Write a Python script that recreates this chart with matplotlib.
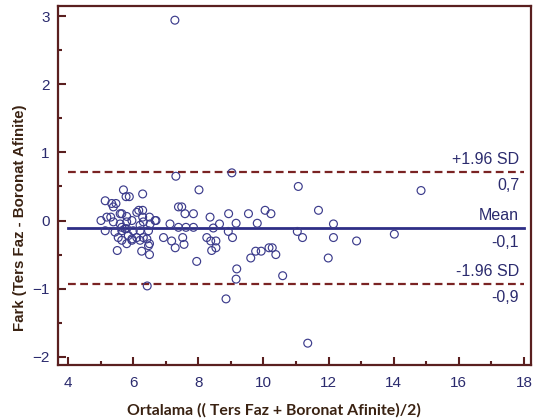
import matplotlib
matplotlib.use("Agg")
import matplotlib.pyplot as plt
import numpy as np
from matplotlib.ticker import MultipleLocator

# Bland-Altman: average of both methods vs. their difference
avg_vals = [
    5.70, 5.78, 5.88, 6.29, 8.02,
    5.14, 5.34, 5.47, 5.39, 6.17, 6.29, 7.39, 7.49, 7.59, 7.85, 8.36, 8.93, 9.54,
    5.01, 5.19, 5.31, 5.65, 5.80, 5.39, 5.60, 5.80, 5.96, 6.29, 6.31, 6.50, 6.70,
    6.52, 7.13, 7.39, 7.62, 7.85, 8.65, 8.46, 9.16,
    5.14, 5.44, 5.65, 5.80, 6.00, 6.21, 6.47, 6.93, 7.18, 7.29, 7.52, 7.56, 8.26,
    8.38, 8.54, 8.41, 8.54,
    5.54, 5.65, 5.80, 5.96, 6.11, 6.21, 6.42, 6.50, 5.51, 6.26, 6.50, 7.95, 9.18,
    9.16, 8.85, 6.43,
    9.61, 9.76, 9.93, 10.17, 10.27, 10.38, 10.59, 11.36,
    10.05, 10.23, 9.81, 8.92, 9.05,
    11.07, 11.69, 12.15, 12.15, 12.86, 14.02, 11.99, 11.04, 11.20, 14.84,
    7.28, 7.31, 9.03,
    5.60, 5.65, 5.75, 5.85, 5.96, 6.11, 6.21, 6.31, 6.47, 6.67,
]
diff_vals = [
    0.45, 0.35, 0.35, 0.39, 0.45,
    0.29, 0.25, 0.25, 0.20, 0.15, 0.15, 0.20, 0.20, 0.10, 0.10, 0.05, 0.10, 0.10,
    0.00, 0.05, 0.05, 0.10, 0.06, -0.02, -0.05, -0.02, 0.00, 0.05, -0.02, 0.05, 0.00,
    -0.05, -0.05, -0.10, -0.10, -0.10, -0.05, -0.11, -0.04,
    -0.15, -0.17, -0.15, -0.12, -0.15, -0.15, -0.15, -0.25, -0.30, -0.40, -0.25, -0.35, -0.25,
    -0.30, -0.30, -0.44, -0.40,
    -0.25, -0.29, -0.34, -0.27, -0.25, -0.29, -0.27, -0.34, -0.44, -0.45, -0.50, -0.60, -0.71,
    -0.86, -1.15, -0.96,
    -0.55, -0.45, -0.45, -0.40, -0.40, -0.50, -0.81, -1.80,
    0.15, 0.10, -0.04, -0.16, -0.25,
    0.50, 0.15, -0.05, -0.25, -0.30, -0.20, -0.55, -0.16, -0.25, 0.44,
    2.94, 0.65, 0.70,
    0.10, -0.10, -0.12, -0.22, -0.29, 0.12, -0.07, -0.25, -0.37, 0.00,
]

mean_diff = -0.115
upper_loa = 0.71
lower_loa = -0.93
line_labels = ["+1.96 SD", "Mean", "-1.96 SD"]
value_labels = ["0,7", "-0,1", "-0,9"]

spine_col = "#5a1f1f"
loa_col = "#7a2323"
mean_col = "#2e2e86"
point_col = "#3c3c8c"
text_col = "#2b2b6e"
label_col = "#3a2212"

fig = plt.figure(figsize=(5.37, 4.2), dpi=100)
ax = fig.add_axes([0.108, 0.131, 0.881, 0.855])

ax.scatter(avg_vals, diff_vals, s=32, facecolors="none", edgecolors=point_col,
           linewidths=0.85, zorder=3)

ax.plot([4, 18], [mean_diff, mean_diff], color=mean_col, lw=2, zorder=2)
for yv in (upper_loa, lower_loa):
    ax.plot([4, 18], [yv, yv], color=loa_col, lw=1.6, ls=(0, (3.5, 2.0)), zorder=2)

# labels to the right of the reference lines
for yv, top, bottom in zip((upper_loa, mean_diff, lower_loa), line_labels, value_labels):
    ax.annotate(top, xy=(17.85, yv), xytext=(0, 3.5), textcoords="offset points",
                ha="right", va="bottom", fontsize=11.5, color=text_col,
                family="Liberation Sans")
    ax.annotate(bottom, xy=(17.85, yv), xytext=(0, -4.5), textcoords="offset points",
                ha="right", va="top", fontsize=11.5, color=text_col,
                family="Liberation Sans")

ax.set_xlim(3.69, 18.22)
ax.set_ylim(-2.12, 3.15)
ax.xaxis.set_major_locator(MultipleLocator(2))
ax.xaxis.set_minor_locator(MultipleLocator(1))
ax.yaxis.set_major_locator(MultipleLocator(1))
ax.yaxis.set_minor_locator(MultipleLocator(0.5))

for sp in ax.spines.values():
    sp.set_color(spine_col)
    sp.set_linewidth(1.6)

ax.tick_params(which="both", direction="in", color=spine_col, width=1.5,
               labelcolor=text_col, labelsize=11, pad=6)
ax.tick_params(axis="x", pad=8)
ax.tick_params(which="major", length=6)
ax.tick_params(which="minor", length=3)
ax.tick_params(axis="both", which="both", top=False, right=False)
for lab in ax.get_xticklabels() + ax.get_yticklabels():
    lab.set_family("Liberation Sans")

ax.set_xlabel("Ortalama (( Ters Faz + Boronat Afinite)/2)", fontsize=11.4,
              fontweight="bold", color=label_col, family="Lato")
ax.xaxis.set_label_coords(0.456, -0.105)
ax.set_ylabel("Fark (Ters Faz - Boronat Afinite)", fontsize=10.8,
              fontweight="bold", color=label_col, family="Liberation Sans")
ax.yaxis.set_label_coords(-0.066, 0.41)

fig.savefig("out.png", dpi=100)
